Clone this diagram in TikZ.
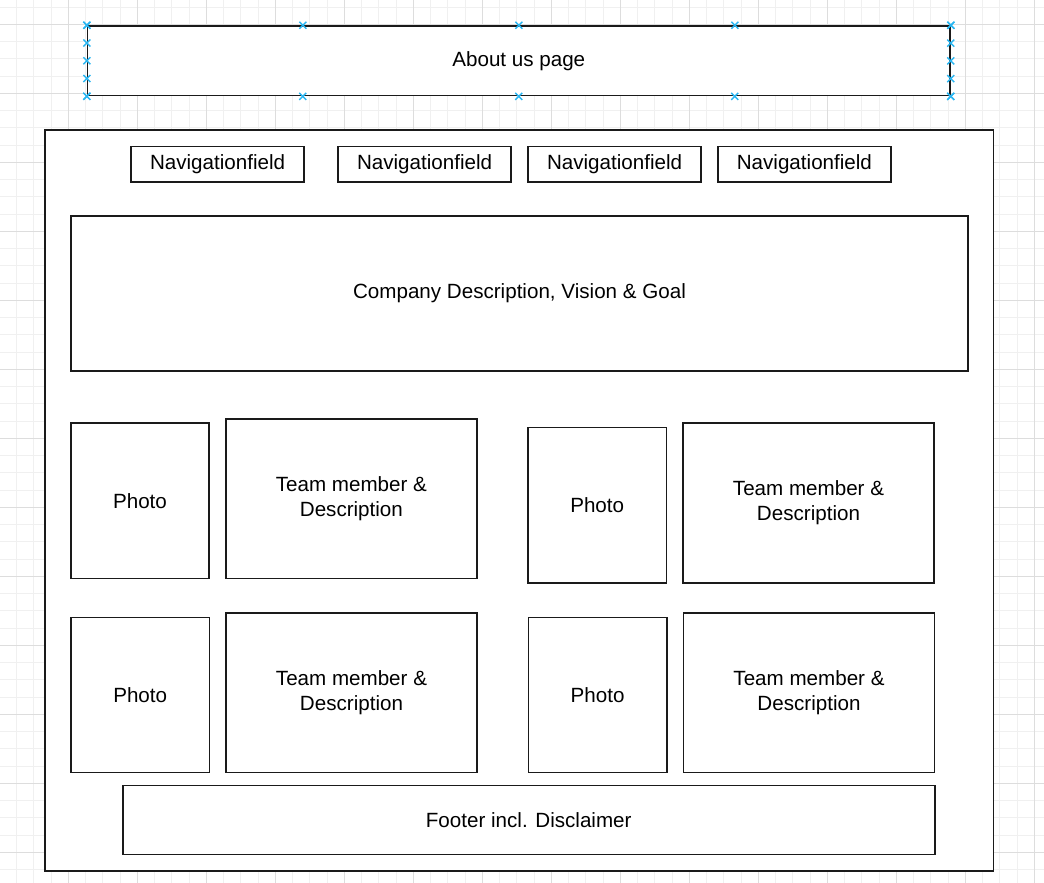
\documentclass[tikz,border=0pt]{standalone}
\usepackage{fontspec}
\setmainfont{Liberation Sans}
\usetikzlibrary{calc}
\definecolor{minorgrid}{HTML}{F0F0F0}
\definecolor{majorgrid}{HTML}{DDDDDD}
\definecolor{handleblue}{HTML}{29B6F2}
\definecolor{boxline}{HTML}{1A1A1A}
\begin{document}
\begin{tikzpicture}[
    x=1pt, y=-1pt,
    every node/.style={font=\fontsize{20.6}{24.7}\selectfont, align=center},
    wirebox/.style={draw=boxline, line width=1.6pt, fill=white, inner sep=0pt},
    navfield/.style={wirebox, minimum width=173.3pt, minimum height=35.3pt},
    photobox/.style={wirebox, minimum width=138.5pt, minimum height=155.2pt},
    memberbox/.style={wirebox, minimum width=250.8pt, minimum height=159.5pt},
    handle/.style={handleblue, line width=1.4pt}
  ]
  \useasboundingbox (0,0) rectangle (1044,883);
  \fill[white] (0,0) rectangle (1044,883);
  % grid
  \foreach \i in {0,...,61} \draw[minorgrid, line width=1pt] ({-0.7+17.25*\i},0) -- ({-0.7+17.25*\i},883);
  \foreach \j in {-1,...,50} \draw[minorgrid, line width=1pt] (0,{24.3+17.25*\j}) -- (1044,{24.3+17.25*\j});
  \foreach \i in {0,...,15} \draw[majorgrid, line width=1pt] ({-0.7+69*\i},0) -- ({-0.7+69*\i},883);
  \foreach \j in {0,...,12} \draw[majorgrid, line width=1pt] (0,{24.3+69*\j}) -- (1044,{24.3+69*\j});

  \node[wirebox, minimum width=862.3pt, minimum height=69.5pt] (title) at (518.8,60.8) {About us page};
  \node[wirebox, minimum width=948.5pt, minimum height=741.2pt] (page) at (519.2,500.4) {};

  \node[navfield] (nav1) at (217.6,164.3) {Navigationfield};
  \node[navfield] (nav2) at (424.6,164.3) {Navigationfield};
  \node[navfield] (nav3) at (614.6,164.3) {Navigationfield};
  \node[navfield] (nav4) at (804.4,164.3) {Navigationfield};

  \node[wirebox, minimum width=897pt, minimum height=155pt] (company) at (519.5,293.5) {Company Description, Vision \& Goal};

  \node[photobox] (photo1) at (140,500.8) {Photo};
  \node[memberbox] (member1) at (351.4,498.6) {Team member \&\\Description};
  \node[photobox] (photo2) at (597.2,505.2) {Photo};
  \node[memberbox] (member2) at (808.5,503) {Team member \&\\Description};
  \node[photobox] (photo3) at (140.2,695) {Photo};
  \node[memberbox] (member3) at (351.5,692.8) {Team member \&\\Description};
  \node[photobox] (photo4) at (597.6,695) {Photo};
  \node[memberbox] (member4) at (809,692.8) {Team member \&\\Description};

  \node[wirebox, minimum width=812pt, minimum height=69pt] (footer) at (528.7,819.8) {Footer incl. Disclaimer};

  % selection handles
  \foreach \f in {0,0.25,0.5,0.75,1} {
    \foreach \p in {($(title.north west)!\f!(title.north east)$),
                    ($(title.south west)!\f!(title.south east)$),
                    ($(title.north west)!\f!(title.south west)$),
                    ($(title.north east)!\f!(title.south east)$)} {
      \draw[handle] \p +(-3.5,-3.5) -- +(3.5,3.5) +(-3.5,3.5) -- +(3.5,-3.5);
    }
  }
\end{tikzpicture}
\end{document}
